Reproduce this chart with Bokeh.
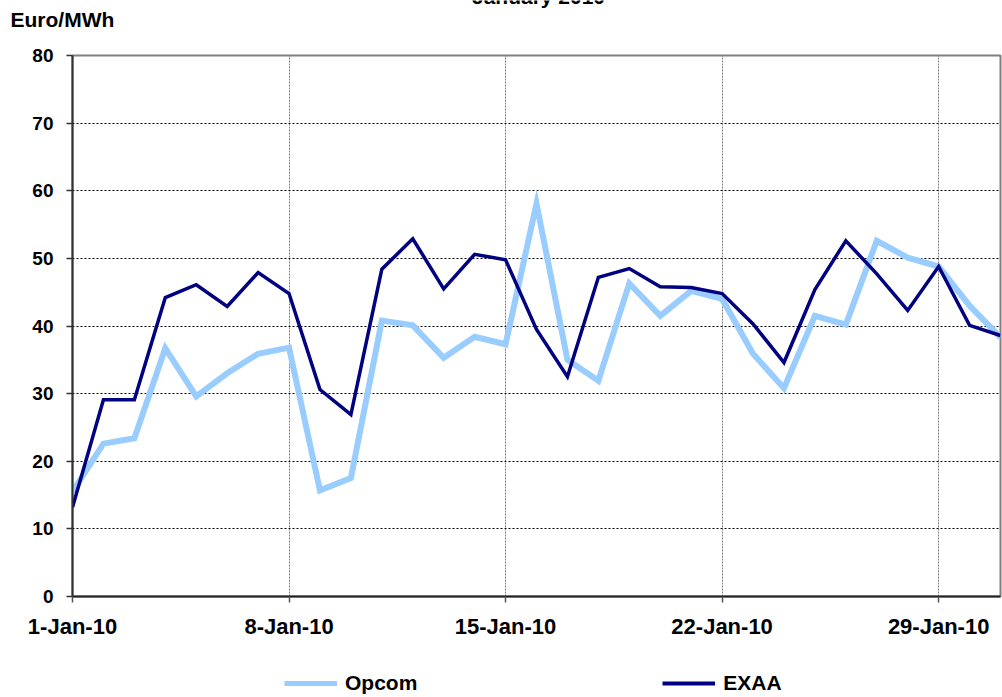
from bokeh.plotting import figure
from bokeh.layouts import column
from bokeh.models import FixedTicker, Legend, LegendItem, Label, Range1d
from bokeh.embed import file_html
from bokeh.resources import INLINE

# ---- data ----
days = list(range(1, 32))
opcom = [15.5, 22.6, 23.4, 36.7, 29.6, 33.0, 35.9, 36.8, 15.7, 17.5, 40.8, 40.1, 35.3, 38.4, 37.3,
         58.1, 35.0, 31.9, 46.3, 41.5, 45.2, 44.0, 35.9, 30.8, 41.5, 40.2, 52.6, 50.1, 48.8, 43.0, 38.3]
exaa = [13.2, 29.1, 29.1, 44.2, 46.1, 42.9, 47.9, 44.8, 30.6, 26.9, 48.4, 52.9, 45.5, 50.6, 49.8,
        39.5, 32.5, 47.2, 48.5, 45.8, 45.7, 44.8, 40.3, 34.6, 45.4, 52.6, 47.7, 42.3, 48.8, 40.1, 38.6]
x_tick_days = [1, 8, 15, 22, 29]
x_tick_labels = ["1-Jan-10", "8-Jan-10", "15-Jan-10", "22-Jan-10", "29-Jan-10"]
y_ticks = [0, 10, 20, 30, 40, 50, 60, 70, 80]
series_names = ["Opcom", "EXAA"]
series_colors = ["#99CCFF", "#000080"]
series_widths = [6, 3.5]
chart_title = "January 2010"
unit_label = "Euro/MWh"

FONT = "Liberation Sans"
W = 1002


def bare(h):
    f = figure(width=W, height=h, output_backend="svg", toolbar_location=None,
               x_axis_location=None, y_axis_location=None,
               min_border_left=0, min_border_right=0, min_border_top=0, min_border_bottom=0,
               x_range=Range1d(0, W), y_range=Range1d(0, h), frame_align=False)
    f.outline_line_color = None
    f.xgrid.visible = False
    f.ygrid.visible = False
    return f


# ---- header (unit label + cut title) ----
H_HEAD = 40
head = bare(H_HEAD)
head.add_layout(Label(x=10, y=21, text=unit_label, text_font=FONT, text_font_style="bold",
                      text_font_size="21px", text_align="left", text_baseline="alphabetic",
                      text_color="black"))
head.add_layout(Label(x=538, y=44, text=chart_title, text_font=FONT, text_font_style="bold",
                      text_font_size="21px", text_align="center", text_baseline="alphabetic",
                      text_color="black"))

# ---- main chart ----
p = figure(width=W, height=606, output_backend="svg", toolbar_location=None,
           x_range=Range1d(1, 31), y_range=Range1d(0, 80), frame_align=False,
           min_border_left=72, min_border_right=2, min_border_top=15, min_border_bottom=50,
           background_fill_color="white", border_fill_color="white")

p.outline_line_color = "#808080"
p.outline_line_width = 2

p.ygrid.grid_line_color = "black"
p.ygrid.grid_line_dash = "2 2"
p.ygrid.grid_line_width = 1
p.xgrid.grid_line_color = "#808080"
p.xgrid.grid_line_dash = "2 1"
p.xgrid.grid_line_width = 1

p.xaxis.ticker = FixedTicker(ticks=x_tick_days)
p.xaxis.major_label_overrides = {d: l for d, l in zip(x_tick_days, x_tick_labels)}
p.yaxis.ticker = FixedTicker(ticks=y_ticks)
for ax in (p.xaxis[0], p.yaxis[0]):
    ax.major_tick_in = 0
    ax.major_tick_out = 6
    ax.minor_tick_in = 0
    ax.minor_tick_out = 0
    ax.major_label_text_font = FONT
    ax.major_label_text_font_style = "bold"
    ax.major_label_text_color = "black"
    ax.axis_line_width = 2
    ax.major_tick_line_width = 1.5
p.yaxis.axis_line_color = "#333333"
p.yaxis.major_tick_line_color = "#333333"
p.xaxis.axis_line_color = "#222222"
p.xaxis.major_tick_line_color = "#555555"
p.yaxis.major_label_text_font_size = "19px"
p.xaxis.major_label_text_font_size = "22px"
p.yaxis.major_label_standoff = 13
p.xaxis.major_label_standoff = 11

p.line(days, opcom, line_color=series_colors[0], line_width=series_widths[0], line_join="miter")
p.line(days, exaa, line_color=series_colors[1], line_width=series_widths[1], line_join="miter")

# ---- legend strip (series lines drawn off-view, only their legend swatches show) ----
H_LEG = 50
leg = bare(H_LEG)
leg.y_range = Range1d(-200, -150)
k1 = leg.line(days, opcom, line_color=series_colors[0], line_width=5)
k2 = leg.line(days, exaa, line_color=series_colors[1], line_width=4)
legend = Legend(items=[LegendItem(label=series_names[0], renderers=[k1]),
                       LegendItem(label=series_names[1], renderers=[k2])],
                orientation="horizontal", location=(284, 1),
                glyph_width=53, glyph_height=24, label_height=24, label_standoff=8,
                spacing=245, padding=0, margin=0,
                border_line_color=None, background_fill_alpha=0,
                label_text_font=FONT, label_text_font_style="bold", label_text_font_size="21px",
                label_text_color="black")
leg.add_layout(legend, "center")

layout = column(head, p, leg, spacing=0)
open("out.html", "w").write(file_html(layout, INLINE))
